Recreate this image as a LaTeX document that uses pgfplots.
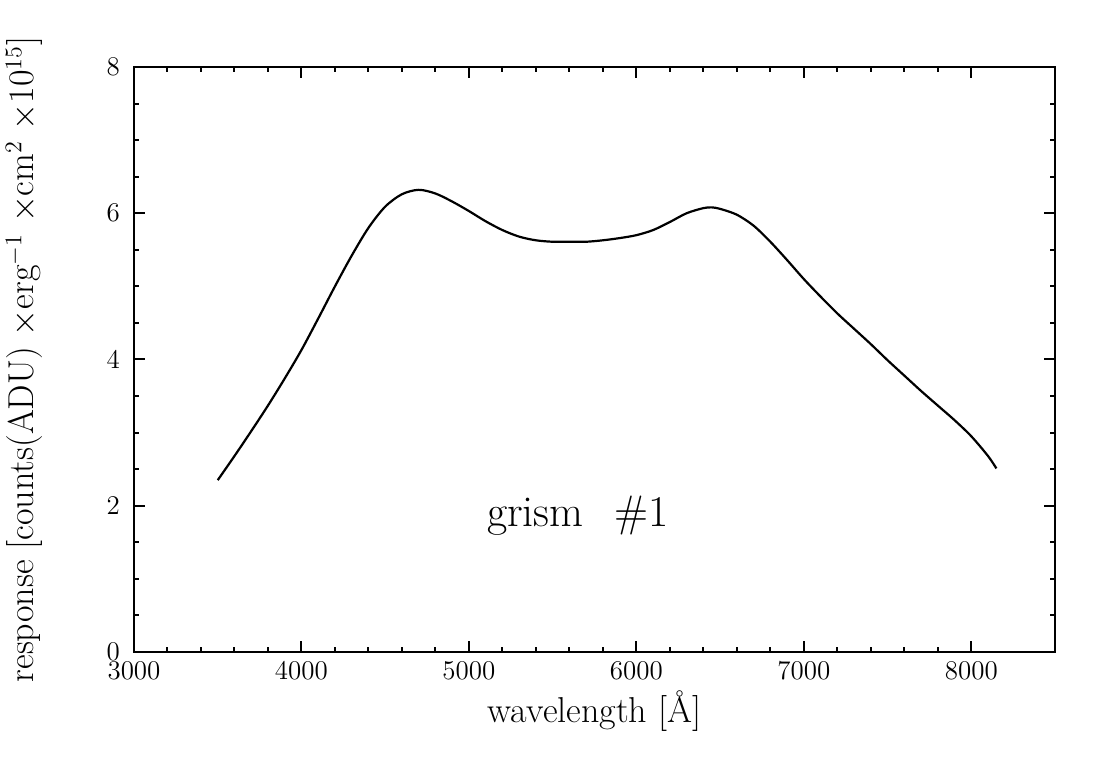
\documentclass[border=0pt]{standalone}
\usepackage{fontspec}
\usepackage{pgfplots}
\pgfplotsset{compat=1.18}
\pgfplotstableread{
lam resp
3500 2.35
3600 2.68
3700 3.02
3800 3.37
3900 3.74
4000 4.13
4100 4.56
4200 5.00
4300 5.42
4400 5.80
4500 6.09
4600 6.26
4700 6.32
4800 6.27
4900 6.16
5000 6.03
5100 5.89
5200 5.77
5300 5.68
5400 5.63
5500 5.61
5600 5.61
5700 5.61
5800 5.63
5900 5.66
6000 5.70
6100 5.77
6200 5.88
6300 6.00
6400 6.07
6450 6.08
6500 6.06
6600 5.98
6700 5.83
6800 5.61
6900 5.36
7000 5.10
7100 4.86
7200 4.63
7300 4.42
7400 4.21
7500 3.99
7600 3.78
7700 3.57
7800 3.37
7900 3.17
8000 2.95
8100 2.68
8150 2.51
}\grism
\begin{document}
\begin{tikzpicture}
\begin{axis}[
  scale only axis,
  width=460.5pt, height=292.5pt,
  xmin=3000, xmax=8500, ymin=0, ymax=8,
  xtick={3000,4000,...,8000},
  ytick={0,2,4,6,8},
  minor x tick num=4,
  minor y tick num=3,
  tick align=inside,
  major tick length=5.5pt,
  minor tick length=2.6pt,
  axis line style={line width=1pt},
  every tick/.style={line width=1pt, black},
  /pgf/number format/assume math mode=true,
  /pgf/number format/set thousands separator={},
  tick label style={font=\fontsize{13.5}{13.5}\selectfont},
  xticklabel style={yshift=-1pt},
  yticklabel style={xshift=-3.5pt},
  label style={font=\fontsize{18}{18}\selectfont},
  xlabel={wavelength [\AA]},
  xlabel style={at={(axis description cs:0.5,-0.1197)}, anchor=base},
  ylabel={response [counts(ADU) $\times$erg$^{-1}$ $\times$cm$^{2}$ $\times$10$^{15}$]},
  ylabel style={at={(axis description cs:-0.1086,0.5)}, anchor=base},
]
\addplot[black, line width=1.1pt, smooth] table[x=lam, y=resp] {\grism};
\node[anchor=base, font=\fontsize{22}{22}\selectfont] at (axis cs:5651,1.71) {grism\hspace{0.7em}\#1};
\coordinate (ll) at (rel axis cs:0,0);
\coordinate (ur) at (rel axis cs:1,1);
\end{axis}
\pgfresetboundingbox
\path ([xshift=-67pt,yshift=-59.5pt]ll) rectangle ([xshift=27.5pt,yshift=33.5pt]ur);
\end{tikzpicture}
\end{document}
